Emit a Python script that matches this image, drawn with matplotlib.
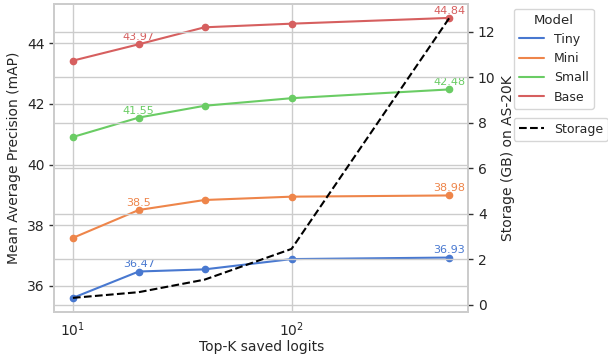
import numpy as np
import matplotlib
matplotlib.use("Agg")
import matplotlib.pyplot as plt
from matplotlib.lines import Line2D
import seaborn as sns

top_k = [10, 20, 40, 100, 527]
models = ["Tiny", "Mini", "Small", "Base"]
map_tiny = [35.60, 36.47, 36.54, 36.88, 36.93]
map_mini = [37.58, 38.50, 38.83, 38.94, 38.98]
map_small = [40.91, 41.55, 41.94, 42.19, 42.48]
map_base = [43.43, 43.97, 44.53, 44.65, 44.84]
storage_gb = [0.30, 0.55, 1.10, 2.45, 12.60]
labeled_k = [20, 527]

sns.set_theme(style="whitegrid")
plt.rcParams['font.family'] = ['DejaVu Sans']
colors = sns.color_palette("muted", 4)

fig, ax = plt.subplots(figsize=(6.08, 3.56), dpi=100)
fig.subplots_adjust(left=0.089, right=0.77, bottom=0.124, top=0.989)

series = [map_tiny, map_mini, map_small, map_base]
handles = []
for name, vals, c in zip(models, series, colors):
    ax.plot(top_k, vals, color=c, marker="o", markersize=4.5, linewidth=1.5)
    handles.append(Line2D([], [], color=c, linewidth=1.5, label=name))
    for k, v in zip(top_k, vals):
        if k in labeled_k:
            ax.annotate(f"{v:g}", (k, v), xytext=(0, 1.5), textcoords="offset points",
                        ha="center", va="bottom", fontsize=8, color=c)

ax.set_xscale("log")
ax.set_xlabel("Top-K saved logits", fontsize=10, labelpad=1)
ax.set_ylabel("Mean Average Precision (mAP)", fontsize=10)
ax.tick_params(axis="y", which="major", left=True, length=3.5, width=1, labelsize=10, color="#333333")
ax.tick_params(axis="x", which="both", bottom=False, labelsize=10, pad=0)

ax2 = ax.twinx()
st, = ax2.plot(top_k, storage_gb, color="black", linestyle="--", linewidth=1.5, label="Storage")
ax2.set_ylabel("Storage (GB) on AS-20K", fontsize=10)
ax2.tick_params(axis="y", right=True, length=3.5, width=1, labelsize=10, color="#333333")
ax2.set_yticks([0, 2, 4, 6, 8, 10, 12])
ax2.grid(True)

leg1 = ax2.legend(handles=handles, title="Model", loc="upper left", bbox_to_anchor=(1.11, 0.985),
                  fontsize=9, title_fontsize=9.5, borderaxespad=0)
ax2.add_artist(leg1)
ax2.legend(handles=[st], loc="upper left", bbox_to_anchor=(1.11, 0.63), fontsize=9, borderaxespad=0)

plt.savefig("out.png", dpi=100)
